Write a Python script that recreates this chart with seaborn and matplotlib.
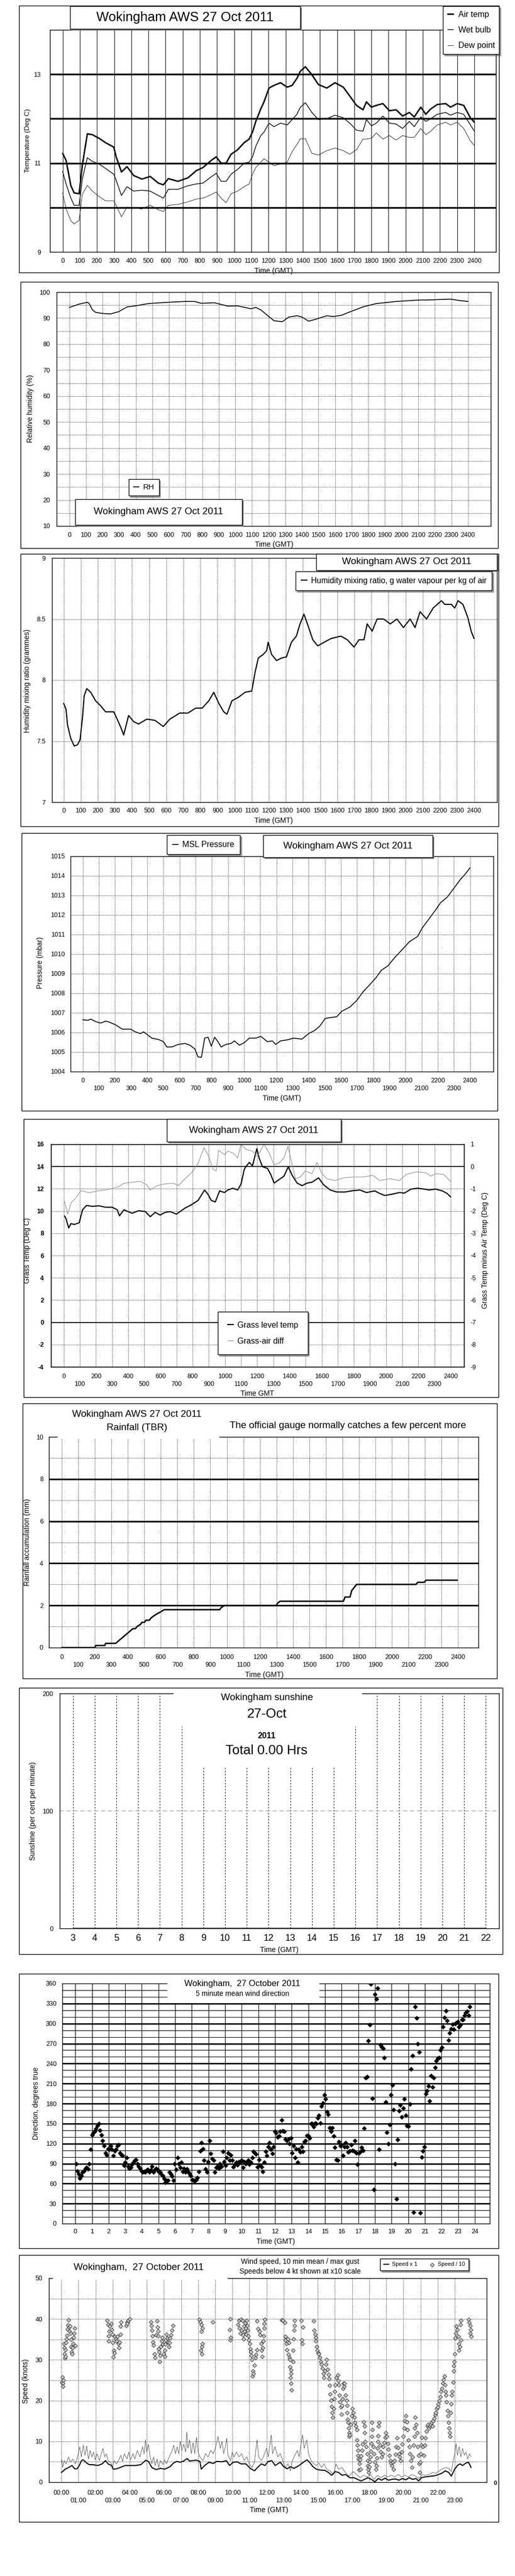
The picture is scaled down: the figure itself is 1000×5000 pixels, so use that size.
import matplotlib
matplotlib.use("Agg")
import matplotlib.pyplot as plt
import numpy as np
import seaborn as sns
from matplotlib.patches import Rectangle

# ---------------- data ----------------
# panel 1: temperatures (time in HHMM-style units 0..2400)
temp_time = [0, 20, 48, 67, 96, 115, 144, 173, 212, 250, 298, 312, 343, 375, 414, 462, 510, 558, 587, 616,
             673, 731, 779, 818, 866, 895, 924, 953, 982, 1020, 1058, 1087, 1107, 1126, 1155, 1174, 1203, 1232,
             1270, 1309, 1338, 1366, 1386, 1415, 1453, 1491, 1540, 1588, 1636, 1674, 1713, 1751, 1771, 1800,
             1829, 1867, 1905, 1944, 1982, 2021, 2050, 2088, 2117, 2146, 2184, 2233, 2261, 2300, 2338, 2377, 2400]
air_temp = [11.22, 11.06, 10.49, 10.33, 10.31, 10.96, 11.66, 11.64, 11.56, 11.46, 11.36, 11.14, 10.80, 10.92,
            10.72, 10.64, 10.70, 10.55, 10.51, 10.65, 10.59, 10.67, 10.83, 10.90, 11.06, 11.14, 11.00, 11.00,
            11.20, 11.30, 11.46, 11.54, 11.70, 11.94, 12.22, 12.38, 12.69, 12.75, 12.81, 12.71, 12.75, 12.91,
            13.07, 13.17, 12.99, 12.77, 12.69, 12.81, 12.71, 12.51, 12.30, 12.20, 12.38, 12.26, 12.30, 12.34,
            12.18, 12.20, 12.06, 12.14, 12.04, 12.26, 12.10, 12.22, 12.32, 12.34, 12.26, 12.34, 12.30, 12.02, 11.92]
wet_bulb = [10.81, 10.53, 10.21, 10.05, 10.05, 10.65, 11.12, 11.04, 10.98, 10.88, 10.75, 10.61, 10.27, 10.47,
            10.37, 10.39, 10.37, 10.27, 10.21, 10.41, 10.41, 10.49, 10.53, 10.55, 10.69, 10.77, 10.59, 10.59,
            10.75, 10.86, 11.00, 11.02, 11.14, 11.38, 11.62, 11.70, 11.90, 11.82, 11.90, 11.86, 11.98, 12.10,
            12.26, 12.36, 12.14, 11.98, 12.00, 12.08, 12.02, 11.90, 11.74, 11.72, 11.98, 11.84, 11.90, 12.06,
            11.90, 11.88, 11.78, 11.94, 11.82, 12.04, 11.94, 12.00, 12.10, 12.14, 12.08, 12.14, 12.10, 11.86, 11.72]
dew_point = [10.33, 9.97, 9.70, 9.63, 9.71, 10.30, 10.50, 10.37, 10.25, 10.15, 10.15, 10.05, 9.79, 10.01,
             9.99, 9.97, 10.05, 9.95, 9.91, 10.05, 10.07, 10.13, 10.19, 10.21, 10.29, 10.35, 10.21, 10.11,
             10.31, 10.37, 10.47, 10.53, 10.75, 10.90, 11.02, 11.10, 11.02, 10.94, 10.98, 11.02, 11.26, 11.42,
             11.55, 11.55, 11.22, 11.18, 11.28, 11.34, 11.28, 11.20, 11.30, 11.54, 11.54, 11.56, 11.68, 11.54,
             11.62, 11.52, 11.62, 11.58, 11.58, 11.78, 11.64, 11.72, 11.86, 11.92, 11.86, 11.92, 11.78, 11.50, 11.40]

# panel 2: relative humidity
rh_time = [0, 60, 109, 119, 139, 159, 199, 248, 298, 348, 397, 477, 596, 695, 755, 795, 874, 954, 1013, 1093,
           1123, 1152, 1192, 1232, 1282, 1321, 1371, 1401, 1441, 1490, 1550, 1590, 1639, 1689, 1768, 1848,
           1967, 2086, 2166, 2295, 2345, 2400]
rh = [94.1, 95.4, 96.1, 95.7, 93.2, 92.2, 91.8, 91.6, 92.5, 94.3, 94.7, 95.6, 96.1, 96.4, 96.4, 95.7, 95.9,
      94.6, 94.7, 93.6, 94.1, 93.2, 91.1, 89.0, 88.6, 90.4, 90.9, 90.4, 88.8, 89.7, 90.9, 90.6, 91.1, 92.4,
      94.3, 95.6, 96.4, 96.9, 97.0, 97.3, 96.8, 96.4]

# panel 3: humidity mixing ratio
mix_time = [0, 14, 23, 42, 62, 81, 96, 110, 120, 135, 158, 187, 216, 245, 293, 313, 338, 351, 380, 409, 438,
            486, 534, 583, 621, 679, 727, 772, 810, 849, 878, 907, 936, 955, 984, 1023, 1061, 1100, 1119, 1138,
            1167, 1187, 1196, 1216, 1245, 1274, 1303, 1332, 1361, 1380, 1405, 1428, 1457, 1486, 1524, 1563,
            1621, 1659, 1698, 1727, 1756, 1775, 1804, 1833, 1871, 1910, 1949, 1987, 2026, 2055, 2084, 2122,
            2161, 2209, 2229, 2267, 2287, 2306, 2335, 2364, 2383, 2400]
mix_ratio = [7.81, 7.76, 7.63, 7.52, 7.46, 7.47, 7.51, 7.69, 7.87, 7.93, 7.90, 7.83, 7.79, 7.74, 7.74, 7.68,
             7.60, 7.55, 7.71, 7.66, 7.64, 7.68, 7.67, 7.62, 7.68, 7.73, 7.73, 7.77, 7.77, 7.83, 7.90, 7.81,
             7.74, 7.72, 7.83, 7.86, 7.90, 7.91, 8.06, 8.18, 8.21, 8.24, 8.31, 8.21, 8.16, 8.18, 8.19, 8.31,
             8.36, 8.45, 8.54, 8.45, 8.33, 8.28, 8.31, 8.34, 8.36, 8.33, 8.27, 8.33, 8.33, 8.46, 8.40, 8.50,
             8.50, 8.46, 8.50, 8.43, 8.50, 8.43, 8.56, 8.50, 8.59, 8.65, 8.62, 8.62, 8.59, 8.65, 8.62, 8.51,
             8.40, 8.34]

# panel 4: MSL pressure
pres_time = [0, 31, 51, 82, 112, 143, 164, 204, 245, 296, 327, 358, 378, 429, 470, 501, 521, 552, 593, 634,
             664, 695, 715, 736, 756, 777, 797, 818, 838, 858, 889, 920, 940, 971, 1002, 1033, 1073, 1104,
             1145, 1175, 1196, 1227, 1267, 1308, 1359, 1400, 1441, 1472, 1502, 1533, 1574, 1605, 1656, 1697,
             1738, 1779, 1819, 1850, 1891, 1932, 1973, 2024, 2075, 2106, 2147, 2188, 2218, 2259, 2300, 2341,
             2371, 2400]
pressure = [1006.65, 1006.62, 1006.68, 1006.55, 1006.48, 1006.58, 1006.53, 1006.39, 1006.17, 1006.17,
            1006.03, 1005.94, 1006.03, 1005.71, 1005.64, 1005.53, 1005.26, 1005.26, 1005.39, 1005.44,
            1005.35, 1005.16, 1004.75, 1004.73, 1005.71, 1005.76, 1005.30, 1005.76, 1005.53, 1005.26,
            1005.39, 1005.44, 1005.57, 1005.35, 1005.48, 1005.71, 1005.71, 1005.80, 1005.53, 1005.57,
            1005.39, 1005.57, 1005.62, 1005.71, 1005.66, 1005.94, 1006.12, 1006.35, 1006.71, 1006.76,
            1006.80, 1007.08, 1007.30, 1007.62, 1008.08, 1008.44, 1008.81, 1009.17, 1009.40, 1009.81,
            1010.17, 1010.63, 1010.90, 1011.36, 1011.81, 1012.27, 1012.63, 1012.91, 1013.36, 1013.82,
            1014.09, 1014.41]

# panel 5: grass temperature and grass-air difference
grass_time = [4, 14, 31, 45, 66, 96, 117, 141, 178, 219, 260, 301, 332, 346, 373, 424, 465, 506, 537, 567,
              598, 629, 659, 700, 721, 752, 793, 834, 854, 874, 895, 915, 940, 967, 997, 1018, 1049, 1079,
              1100, 1120, 1130, 1151, 1171, 1198, 1212, 1233, 1264, 1284, 1305, 1335, 1366, 1393, 1417, 1448,
              1479, 1509, 1540, 1581, 1612, 1653, 1694, 1745, 1786, 1837, 1878, 1929, 1960, 1991, 2032, 2083,
              2113, 2154, 2195, 2236, 2266, 2307, 2348, 2378, 2400]
grass_temp = [9.57, 9.33, 8.48, 8.87, 8.79, 8.95, 10.11, 10.50, 10.42, 10.47, 10.34, 10.34, 10.11, 9.57,
              10.11, 9.80, 10.03, 9.95, 9.49, 9.88, 9.64, 9.88, 9.95, 9.72, 9.95, 10.26, 10.57, 10.96, 11.43,
              11.89, 11.50, 10.96, 10.81, 11.81, 11.66, 11.89, 12.05, 11.89, 12.43, 13.75, 13.98, 14.37, 14.06,
              15.61, 14.76, 13.98, 13.83, 13.29, 12.51, 12.82, 13.13, 13.98, 13.21, 12.51, 12.28, 12.51, 12.59,
              12.98, 12.36, 11.89, 11.71, 11.71, 11.81, 11.89, 11.66, 11.81, 11.58, 11.40, 11.50, 11.66, 11.61,
              11.97, 12.05, 11.97, 11.89, 11.97, 11.81, 11.58, 11.27]
diff_time = [4, 25, 45, 76, 106, 158, 219, 281, 342, 373, 424, 475, 516, 537, 578, 629, 680, 711, 752, 793,
             834, 870, 899, 926, 946, 961, 997, 1018, 1049, 1079, 1100, 1130, 1171, 1202, 1243, 1274, 1305,
             1335, 1366, 1391, 1417, 1438, 1468, 1499, 1540, 1571, 1602, 1632, 1683, 1735, 1796, 1858, 1919,
             1960, 2021, 2083, 2124, 2185, 2247, 2277, 2308, 2359, 2400]
grass_air_diff = [-1.56, -2.14, -1.64, -1.40, -1.09, -1.17, -1.09, -1.02, -0.90, -0.75, -0.71, -0.67, -0.82,
                  -1.05, -0.86, -0.78, -0.75, -0.86, -0.55, -0.28, 0.15, 0.85, 0.46, -0.12, -0.20, 0.73, 0.53,
                  0.69, 0.61, 0.38, 1.0, 0.77, 0.69, 0.46, 1.0, 0.61, 0.07, 0.15, 0.38, 0.92, 0.07, -0.55,
                  -0.47, -0.20, -0.32, 0.19, -0.32, -0.55, -0.63, -0.51, -0.47, -0.47, -0.40, -0.63, -0.55,
                  -0.63, -0.36, -0.24, -0.28, -0.43, -0.32, -0.36, -0.67]

# panel 6: rainfall accumulation (tipping bucket)
rain_time = [0, 200, 206, 260, 266, 326, 341, 356, 371, 386, 401, 416, 431, 446, 456, 476, 486, 500, 510,
             530, 540, 556, 576, 600, 620, 956, 966, 986, 1300, 1306, 1322, 1706, 1716, 1746, 1756, 1786,
             2146, 2156, 2196, 2206, 2396]
rain_mm = [0, 0, 0.1, 0.1, 0.2, 0.2, 0.3, 0.4, 0.5, 0.6, 0.7, 0.8, 0.9, 0.9, 1.0, 1.1, 1.2, 1.2, 1.3, 1.3,
           1.4, 1.5, 1.6, 1.7, 1.8, 1.8, 1.9, 2.0, 2.0, 2.1, 2.2, 2.2, 2.4, 2.4, 2.7, 3.0, 3.0, 3.1, 3.1,
           3.2, 3.2]

# panel 7: sunshine (none recorded)
sun_hours = [3, 4, 5, 6, 7, 8, 9, 10, 11, 12, 13, 14, 15, 16, 17, 18, 19, 20, 21, 22]
sunshine = [0, 0, 0, 0, 0, 0, 0, 0, 0, 0, 0, 0, 0, 0, 0, 0, 0, 0, 0, 0]

# panel 8: 5 minute mean wind direction, in time order from 00:02 to 23:42
wind_dir = [89.5, 79, 74, 68, 72, 77, 79, 83, 84, 82, 90, 111,
            133, 136, 138, 142, 147, 150,
            140, 133, 124, 117, 106, 103, 112, 111, 117, 111, 102, 109, 111, 117, 118, 106, 103, 102,
            87, 92, 99, 86, 83, 84, 89, 92, 95, 96, 90, 86,
            83, 79, 77, 78, 77, 80, 81, 77, 80, 86, 77, 80, 83, 81, 78, 77, 74, 72, 67, 62, 64, 65, 77, 74, 71,
            65, 90, 81, 99, 90, 84, 92, 78, 83, 77, 82, 78, 75, 72, 66, 65, 64, 66, 69, 78,
            109, 121, 112, 95, 82, 77, 93, 124, 105, 97, 95, 77, 84, 86, 83, 90, 86, 108, 93, 87, 99, 106, 95, 103,
            95, 85, 89, 92, 88, 93, 92, 95, 84, 93, 90, 93, 95, 89, 92, 99, 108, 106, 104, 85, 96, 87, 85, 78, 92,
            108, 102, 115, 121, 111, 105, 115, 138, 136, 130, 131, 138, 155, 139, 138, 127, 124, 127, 120, 128,
            106, 117, 99, 112,
            92, 111, 107, 115, 108, 123, 124, 132, 131, 128, 150, 150, 145, 151, 150, 158, 162, 151, 176, 181,
            193, 187, 168, 164, 144,
            138, 144, 131, 114, 96, 95, 123, 117, 118, 102, 115, 121, 115, 107, 109, 118, 110, 109, 124, 106,
            89, 106, 108, 114, 110,
            143, 219, 220, 274, 298, 359, 188, 51, 344, 337, 353, 111, 268, 265, 263, 249, 182, 137, 120, 148,
            193, 208, 171, 90,
            37, 126, 169, 178, 160, 173, 187, 162, 147, 146, 179, 232, 252, 17, 325, 308, 270, 257, 16, 100,
            109, 115, 195, 199, 206,
            184, 222, 205, 219, 234, 244, 248, 249, 260, 264, 295, 309, 319, 304, 275, 286, 292, 299, 291, 300,
            301, 303, 295, 298, 306, 306, 312, 316, 318, 312, 325]
dir_first_hour, dir_last_hour = 0.04, 23.70

# panel 9: wind speed, knots (hour, value)
mean_speed = [(0.0, 2.4), (0.12, 2.8), (0.22, 3.2), (0.42, 3.6), (0.62, 4.1), (0.77, 3.3), (0.92, 3.3),
              (1.07, 4.3), (1.17, 5.3), (1.28, 5.5), (1.48, 4.7), (1.63, 4.3), (1.83, 4.3), (2.13, 4.1),
              (2.38, 4.5), (2.58, 5.3), (2.73, 4.5), (2.93, 4.1), (3.03, 3.2), (3.23, 3.3), (3.43, 3.6),
              (3.73, 4.1), (4.04, 4.1), (4.34, 4.1), (4.64, 4.3), (4.94, 5.4), (5.09, 5.1), (5.29, 3.6),
              (5.54, 3.1), (5.79, 3.4), (6.04, 3.2), (6.35, 3.8), (6.55, 4.7), (6.75, 5.1), (6.95, 4.9),
              (7.15, 5.2), (7.35, 5.8), (7.5, 5.2), (7.65, 5.3), (7.9, 5.4), (8.1, 5.1), (8.18, 3.2),
              (8.38, 4.1), (8.63, 4.9), (8.88, 4.6), (9.08, 5.1), (9.39, 5.0), (9.64, 5.3), (9.84, 4.1),
              (10.04, 4.9), (10.29, 5.0), (10.49, 4.5), (10.79, 4.5), (11.04, 3.4), (11.29, 2.8), (11.49, 3.7),
              (11.69, 4.5), (11.9, 4.1), (12.1, 5.1), (12.3, 5.3), (12.5, 4.1), (12.8, 4.9), (13.0, 3.8),
              (13.2, 3.3), (13.4, 3.8), (13.6, 3.4), (13.9, 4.1), (14.15, 4.9), (14.36, 5.5), (14.51, 4.9),
              (14.71, 3.8), (14.91, 3.2), (15.11, 3.0), (15.41, 2.9), (15.61, 2.4), (15.81, 1.7), (16.01, 2.6),
              (16.21, 2.4), (16.41, 1.7), (16.61, 1.9), (16.87, 1.1), (17.12, 1.1), (17.32, 0.7), (17.52, 0.3),
              (17.72, 0.7), (17.92, 1.1), (18.13, 0.7), (18.33, 0.1), (18.53, 0.9), (18.73, 0.5), (18.93, 1.0),
              (19.13, 0.5), (19.33, 0.7), (19.54, 0.8), (19.74, 0.5), (19.94, 0.9), (20.14, 0.6), (20.34, 1.1),
              (20.54, 0.7), (20.74, 0.9), (20.89, 0.3), (21.04, 1.1), (21.25, 1.3), (21.45, 1.4), (21.65, 1.5),
              (21.85, 1.6), (22.05, 1.9), (22.25, 2.2), (22.45, 2.8), (22.65, 2.4), (22.8, 1.5), (23.0, 3.2),
              (23.16, 4.1), (23.31, 4.5), (23.46, 4.1), (23.66, 4.7), (23.81, 4.9), (23.96, 3.6)]
gust_speed = [(0.0, 4.9), (0.04, 5.5), (0.07, 3.6), (0.17, 5.3), (0.27, 4.5), (0.42, 6.2), (0.52, 4.9),
              (0.67, 5.7), (0.82, 4.5), (0.97, 6.6), (1.07, 8.7), (1.17, 6.2), (1.28, 9.1), (1.38, 6.6),
              (1.48, 8.9), (1.58, 5.7), (1.68, 7.8), (1.78, 6.2), (1.88, 7.4), (1.98, 5.5), (2.08, 7.0),
              (2.23, 5.3), (2.33, 7.0), (2.43, 8.3), (2.53, 6.2), (2.63, 7.0), (2.73, 5.3), (2.88, 4.9),
              (2.98, 3.6), (3.08, 5.3), (3.23, 4.5), (3.38, 5.7), (3.48, 6.6), (3.58, 5.1), (3.68, 7.0),
              (3.84, 5.7), (3.94, 7.4), (4.04, 5.5), (4.19, 7.0), (4.29, 5.7), (4.44, 7.8), (4.59, 6.2),
              (4.74, 8.7), (4.84, 7.0), (4.92, 10.4), (4.99, 7.4), (5.09, 9.3), (5.19, 6.2), (5.29, 4.5),
              (5.39, 6.2), (5.49, 4.1), (5.59, 5.7), (5.69, 3.6), (5.79, 5.3), (5.94, 4.3), (6.04, 5.5),
              (6.14, 4.5), (6.3, 6.2), (6.45, 7.4), (6.57, 9.1), (6.67, 7.0), (6.77, 8.7), (6.87, 7.0),
              (6.95, 10.0), (7.05, 7.8), (7.15, 9.3), (7.27, 7.4), (7.33, 12.3), (7.4, 8.3), (7.5, 10.4),
              (7.6, 7.0), (7.7, 9.7), (7.8, 7.0), (7.9, 11.0), (8.0, 7.4), (8.1, 6.2), (8.28, 5.3), (8.43, 7.0),
              (8.58, 6.2), (8.73, 7.8), (8.88, 7.0), (9.03, 8.7), (9.16, 11.2), (9.29, 8.3), (9.39, 10.0),
              (9.49, 7.0), (9.59, 8.7), (9.67, 10.8), (9.74, 6.6), (9.89, 5.3), (9.99, 7.4), (10.09, 6.2),
              (10.24, 7.4), (10.39, 6.2), (10.54, 7.0), (10.69, 5.3), (10.84, 6.2), (10.99, 4.5), (11.14, 3.6),
              (11.29, 4.9), (11.44, 10.4), (11.54, 6.2), (11.69, 5.3), (11.85, 6.6), (12.0, 8.3), (12.1, 6.2),
              (12.27, 11.6), (12.35, 7.0), (12.5, 8.7), (12.65, 6.2), (12.8, 7.0), (12.95, 5.3), (13.1, 3.6),
              (13.25, 4.5), (13.4, 2.8), (13.5, 5.3), (13.65, 6.6), (13.8, 7.8), (13.9, 6.2), (14.02, 9.5),
              (14.1, 11.6), (14.2, 8.3), (14.35, 10.4), (14.45, 7.0), (14.61, 5.3), (14.76, 4.5), (14.91, 4.1),
              (15.06, 4.7), (15.21, 3.6), (15.36, 4.5), (15.51, 3.2), (15.71, 2.8), (15.91, 1.9), (16.06, 4.5),
              (16.21, 3.2), (16.41, 3.6), (16.61, 2.4), (16.81, 1.5), (17.07, 2.6), (17.27, 1.9), (17.48, 1.1),
              (17.68, 1.7), (17.88, 1.3), (18.08, 1.9), (18.28, 0.7), (18.48, 1.7), (18.68, 1.1), (18.89, 1.7),
              (19.09, 1.3), (19.29, 1.7), (19.49, 1.3), (19.69, 1.9), (19.89, 1.3), (20.09, 1.7), (20.29, 1.3),
              (20.5, 1.9), (20.7, 1.5), (20.9, 0.9), (21.1, 1.9), (21.3, 1.7), (21.5, 1.9), (21.7, 2.4),
              (21.9, 2.2), (22.1, 2.8), (22.25, 3.2), (22.46, 3.6), (22.66, 3.4), (22.81, 2.6), (22.91, 5.3),
              (23.01, 7.0), (23.08, 9.5), (23.16, 6.6), (23.26, 8.7), (23.36, 6.2), (23.46, 8.3), (23.56, 6.6),
              (23.66, 7.4), (23.76, 5.7), (23.87, 7.0), (23.95, 6.2)]
speed_x10 = [(0.02, 24.5), (0.05, 25.8), (0.07, 24.2), (0.09, 23.5), (0.10, 25.0), (0.14, 34.0), (0.16, 33.0),
             (0.18, 31.5), (0.20, 30.4), (0.22, 30.8), (0.24, 32.5), (0.27, 34.2), (0.30, 35.1), (0.33, 36.0),
             (0.36, 37.5), (0.39, 38.5), (0.42, 39.8), (0.44, 38.0), (0.47, 37.0), (0.50, 38.2), (0.52, 36.5),
             (0.55, 35.0), (0.58, 33.2), (0.60, 32.0), (0.63, 31.5), (0.66, 33.0), (0.69, 34.0), (0.72, 35.5),
             (0.75, 36.5), (0.78, 37.8), (0.80, 33.5),
             (2.68, 39.7), (2.73, 38.6), (2.75, 34.6), (2.76, 35.9), (2.78, 37.0), (2.83, 38.2), (2.91, 38.9),
             (2.93, 37.4), (2.98, 36.3), (3.01, 34.2), (3.03, 30.7), (3.05, 32.3), (3.08, 31.7), (3.13, 35.7),
             (3.18, 35.1), (3.23, 34.6), (3.28, 35.7), (3.33, 34.0), (3.36, 33.0), (3.41, 34.4), (3.45, 36.3),
             (3.46, 38.2), (3.49, 39.3), (3.79, 38.4), (3.84, 39.3), (3.86, 38.9), (3.92, 39.7), (3.99, 40.0),
             (5.24, 39.3), (5.26, 38.4), (5.29, 37.2), (5.32, 35.9), (5.36, 34.4), (5.39, 33.6), (5.44, 31.5),
             (5.47, 30.6), (5.54, 36.1), (5.59, 39.5), (5.62, 38.0), (5.64, 37.0), (5.66, 35.9), (5.69, 32.7),
             (5.72, 31.9), (5.76, 29.6), (5.79, 31.1), (5.82, 33.2), (5.86, 34.6), (5.90, 35.5), (5.94, 33.8),
             (5.99, 31.5), (6.04, 30.8), (6.06, 32.3), (6.09, 33.8), (6.12, 34.9), (6.14, 36.3), (6.19, 35.3),
             (6.24, 34.4), (6.29, 33.2), (6.32, 34.2), (6.36, 35.3), (6.42, 36.1), (6.46, 37.2), (6.53, 38.4),
             (8.06, 39.9), (8.13, 39.3), (8.16, 32.3), (8.18, 38.6), (8.19, 37.0), (8.20, 33.2), (8.21, 31.5),
             (8.23, 34.0), (8.26, 37.8), (8.86, 39.3), (9.84, 37.4), (9.87, 40.0), (9.88, 34.9), (9.89, 35.5),
             (10.31, 38.6), (10.37, 39.7), (10.41, 37.8), (10.47, 36.5), (10.51, 39.9), (10.54, 37.2),
             (10.59, 39.7), (10.61, 36.1), (10.64, 35.1), (10.67, 38.2), (10.71, 37.0), (10.74, 39.0),
             (10.77, 37.8), (10.79, 36.3), (10.84, 39.7), (10.87, 38.4), (10.89, 37.2), (10.94, 35.9),
             (10.97, 34.9), (11.01, 34.0), (11.04, 32.7), (11.07, 31.9), (11.11, 31.1), (11.14, 30.0),
             (11.17, 26.0), (11.19, 27.3), (11.24, 26.6), (11.29, 28.7), (11.34, 30.6), (11.37, 31.3),
             (11.43, 32.5), (11.45, 39.5), (11.51, 37.6), (11.58, 37.0), (11.63, 36.1), (11.67, 34.0),
             (11.72, 32.3), (11.75, 30.8), (11.77, 33.0), (11.80, 34.6), (11.82, 35.9), (11.85, 37.8),
             (11.87, 38.9), (11.90, 39.9),
             (12.87, 39.8), (12.95, 39.7), (13.05, 39.1), (13.08, 35.7), (13.10, 34.9), (13.15, 34.0),
             (13.18, 32.5), (13.25, 35.1), (13.28, 31.3), (13.30, 34.2), (13.32, 30.6), (13.35, 30.0),
             (13.38, 28.3), (13.40, 25.6), (13.42, 27.5), (13.43, 24.3), (13.44, 26.6), (13.45, 22.6),
             (13.55, 32.3), (13.56, 29.6), (13.58, 35.1), (13.62, 37.2), (13.63, 38.4), (13.65, 39.7),
             (14.02, 39.7), (14.05, 34.9), (14.10, 34.0), (14.12, 38.0),
             (14.76, 39.5), (14.79, 37.2), (14.83, 36.3), (14.86, 35.5), (14.88, 34.6), (14.93, 33.2),
             (14.96, 32.3), (15.01, 31.7), (15.06, 31.5), (15.11, 30.6), (15.16, 29.6), (15.21, 28.9),
             (15.26, 27.9), (15.31, 26.6), (15.36, 25.6), (15.41, 27.3), (15.46, 28.9), (15.51, 30.0),
             (15.56, 27.7), (15.61, 26.4), (15.66, 25.4), (15.68, 23.7), (15.71, 21.6), (15.76, 20.1),
             (15.79, 18.6), (15.83, 17.1), (15.86, 15.9), (15.91, 18.0), (15.96, 20.5), (15.99, 22.2),
             (16.03, 23.9), (16.09, 25.6), (16.16, 26.2), (16.19, 24.9), (16.23, 23.9), (16.26, 21.4),
             (16.29, 19.7), (16.34, 18.4), (16.37, 16.7), (16.40, 18.8), (16.44, 20.5), (16.48, 23.0),
             (16.51, 24.3), (16.54, 23.5), (16.57, 24.3), (16.62, 21.4), (16.67, 20.1), (16.70, 18.8),
             (16.72, 17.1), (16.74, 15.4), (16.77, 14.6), (16.80, 13.3), (16.82, 12.1), (16.84, 11.2),
             (16.87, 11.6), (16.92, 14.2), (16.97, 16.3), (17.02, 18.0), (17.07, 17.1), (17.12, 15.9),
             (17.17, 14.6), (17.22, 13.8), (17.27, 12.9), (17.29, 10.4), (17.32, 9.1), (17.33, 7.8),
             (17.35, 6.6), (17.37, 5.7), (17.40, 3.0), (17.42, 4.5), (17.47, 5.5), (17.50, 3.2), (17.52, 6.4),
             (17.57, 7.8), (17.62, 9.3), (17.67, 14.8), (17.72, 13.8), (17.73, 12.1), (17.77, 10.0),
             (17.82, 8.7), (17.87, 7.0), (17.90, 5.3), (17.92, 4.1), (17.94, 3.2), (17.97, 2.4), (18.00, 3.8),
             (18.04, 5.1), (18.07, 6.2), (18.10, 7.6), (18.12, 9.5), (18.14, 14.6), (18.15, 11.2),
             (18.18, 12.9), (18.23, 8.7), (18.28, 7.0), (18.33, 4.9), (18.38, 3.2), (18.43, 4.1), (18.45, 5.9),
             (18.48, 8.3), (18.51, 10.0), (18.53, 11.4), (18.55, 13.8), (18.58, 14.6), (18.63, 9.1),
             (18.68, 7.4), (18.73, 6.2), (18.78, 7.0), (18.83, 8.7), (18.88, 9.7), (18.93, 11.0), (18.98, 12.1),
             (19.03, 11.2), (19.08, 9.5), (19.13, 8.1), (19.18, 6.6), (19.23, 5.3), (19.28, 4.7), (19.33, 4.1),
             (19.38, 4.9), (19.43, 3.2), (19.48, 5.3), (19.53, 6.8), (19.58, 8.7), (19.64, 10.8), (19.69, 8.5),
             (19.74, 7.0), (19.79, 6.2), (19.84, 5.3), (19.89, 7.4), (19.94, 9.3), (19.99, 11.2), (20.04, 13.3),
             (20.09, 15.0), (20.14, 16.3), (20.19, 14.8), (20.24, 12.9), (20.29, 10.4), (20.34, 8.7),
             (20.39, 7.0), (20.44, 5.3), (20.49, 3.6), (20.54, 6.2), (20.59, 9.1), (20.64, 11.2), (20.66, 13.3),
             (20.69, 15.9), (20.74, 14.2), (20.79, 12.1), (20.84, 8.7), (20.89, 6.6), (20.92, 4.5), (20.94, 2.4),
             (20.99, 4.9), (21.02, 7.0), (21.04, 9.1), (21.09, 11.0), (21.14, 8.7), (21.20, 6.6), (21.25, 9.1),
             (21.30, 10.8), (21.35, 12.5), (21.40, 13.8), (21.45, 14.2), (21.50, 13.3), (21.55, 13.8),
             (21.60, 14.2), (21.65, 14.6), (21.70, 13.8), (21.75, 15.0), (21.80, 15.7), (21.85, 16.5),
             (21.90, 17.1), (21.95, 18.0), (22.00, 18.4), (22.05, 19.2), (22.10, 19.9), (22.15, 20.9),
             (22.20, 22.2), (22.25, 23.0), (22.30, 24.3), (22.35, 25.1), (22.40, 26.0), (22.43, 23.9),
             (22.47, 22.2), (22.50, 21.4), (22.53, 19.7), (22.57, 17.6), (22.60, 16.3), (22.64, 14.6),
             (22.68, 13.3), (22.70, 12.1), (22.73, 11.2), (22.77, 17.1), (22.80, 19.2), (22.83, 21.4),
             (22.85, 22.2), (22.90, 24.5), (22.93, 27.3), (22.95, 28.5), (22.97, 29.6), (23.00, 31.5),
             (23.03, 35.3), (23.07, 36.5), (23.10, 38.2), (23.15, 37.4), (23.20, 35.7), (23.23, 34.0),
             (23.25, 32.3), (23.30, 33.2), (23.33, 38.6), (23.35, 34.9), (23.37, 39.6), (23.81, 39.9),
             (23.86, 39.1), (23.91, 38.4), (23.92, 36.5), (23.94, 37.4), (23.96, 35.7)]

TITLE = "Wokingham AWS 27 Oct 2011"

# ---------------- style ----------------
sns.set_theme(style="white")
plt.rcParams["font.family"] = ["Liberation Sans", "DejaVu Sans"]
plt.rcParams["axes.unicode_minus"] = False
plt.rcParams["axes.edgecolor"] = "black"
plt.rcParams["axes.linewidth"] = 1.0
plt.rcParams["xtick.color"] = "black"
plt.rcParams["ytick.color"] = "black"
plt.rcParams["text.color"] = "black"

W, H = 1000, 5000
fig = plt.figure(figsize=(W / 100, H / 100), dpi=100)
fig.patch.set_facecolor("white")

DOT = (0, (1, 1.6))
DOT_GRID = dict(color="black", linewidth=0.7, linestyle=DOT)


def px_axes(left, top, right, bottom):
    return fig.add_axes([left / W, 1 - bottom / H, (right - left) / W, (bottom - top) / H])


def px_rect(left, top, right, bottom, face="none", edge="black", lw=1.0, z=3):
    fig.add_artist(Rectangle((left / W, 1 - bottom / H), (right - left) / W, (bottom - top) / H,
                             transform=fig.transFigure, facecolor=face, edgecolor=edge,
                             linewidth=lw, zorder=z))


def shadow_box(left, top, right, bottom, text=None, size=13.5):
    px_rect(left + 3, top + 3, right + 3, bottom + 3, face="#7a7a7a", edge="none", z=4)
    px_rect(left, top, right, bottom, face="white", edge="black", z=5)
    if text:
        px_text((left + right) / 2, (top + bottom) / 2, text, size)


def px_text(x, y, s, size, **kw):
    kw.setdefault("ha", "center")
    kw.setdefault("va", "center")
    fig.text(x / W, 1 - y / H, s, fontsize=size, zorder=6, **kw)


def box_legend(handles, labels, left, top, size, **kw):
    leg = fig.legend(handles, labels, loc="upper left", bbox_to_anchor=(left / W, 1 - top / H),
                     bbox_transform=fig.transFigure, fontsize=size, frameon=True, fancybox=False,
                     shadow=True, edgecolor="black", framealpha=1, borderaxespad=0, **kw)
    leg.get_frame().set_linewidth(1.0)
    leg.set_zorder(8)
    return leg


def grab_legend(ax):
    handles, labels = ax.get_legend_handles_labels()
    if ax.get_legend() is not None:
        ax.get_legend().remove()
    return handles, labels


def two_row_xticks(ax, ticks, fmt, pad1, pad2, size=9):
    even, odd = ticks[0::2], ticks[1::2]
    ax.set_xticks(even, [fmt(v) for v in even])
    ax.set_xticks(odd, [fmt(v) for v in odd], minor=True)
    ax.tick_params(axis="x", which="major", pad=pad1, labelsize=size, length=0)
    ax.tick_params(axis="x", which="minor", pad=pad2, labelsize=size, length=0)


def hide_edge_grid(ax, values):
    # keep the plot frame thin where a heavy grid line would sit on it
    for val, line in zip(ax.get_yticks(), ax.get_ygridlines()):
        if val in values:
            line.set_visible(False)


hundreds = list(range(0, 2401, 100))

# ---------------- panel 1: temperature ----------------
px_rect(37, 11, 969, 529)
ax1 = px_axes(97, 58, 963, 489)
sns.lineplot(x=temp_time, y=air_temp, ax=ax1, color="black", linewidth=2.0, label="Air temp", estimator=None)
sns.lineplot(x=temp_time, y=wet_bulb, ax=ax1, color="black", linewidth=1.0, label="Wet bulb", estimator=None)
sns.lineplot(x=temp_time, y=dew_point, ax=ax1, color="black", linewidth=0.6, label="Dew point", estimator=None)
ax1.set_xlim(-74, 2526)
ax1.set_ylim(9, 14)
ax1.set_xticks(hundreds, [str(v) for v in hundreds])
ax1.set_yticks([9, 10, 11, 12, 13], ["9", "", "11", "", "13"])
ax1.grid(axis="x", color="black", linewidth=0.7)
ax1.grid(axis="y", color="black", linewidth=2.4)
hide_edge_grid(ax1, (9,))
ax1.set_axisbelow(True)
ax1.tick_params(length=0, labelsize=9)
ax1.tick_params(axis="x", pad=8.5)
ax1.tick_params(axis="y", pad=13)
ax1.set_xlabel("")
ax1.set_ylabel("")
px_text(531, 526, "Time (GMT)", 10)
px_text(54, 273, "Temperature (Deg C)", 9.5, rotation=90)
h, l = grab_legend(ax1)
box_legend(h, l, 860, 12, 11.5, handlelength=0.7, handletextpad=0.6, labelspacing=0.95, borderpad=0.55)
shadow_box(136, 12, 583, 56, TITLE, 18.5)

# ---------------- panel 2: relative humidity ----------------
px_rect(40, 547, 967, 1064)
ax2 = px_axes(110, 567, 953, 1021)
sns.lineplot(x=rh_time, y=rh, ax=ax2, color="black", linewidth=1.2, label="RH", estimator=None)
ax2.set_xlim(-76, 2537)
ax2.set_ylim(10, 100)
ax2.set_xticks(hundreds, [str(v) for v in hundreds])
ax2.set_yticks(list(range(10, 101, 10)))
ax2.set_yticks(list(range(15, 100, 10)), minor=True)
ax2.grid(axis="x", **DOT_GRID)
ax2.grid(axis="y", which="both", **DOT_GRID)
ax2.set_axisbelow(True)
ax2.tick_params(axis="x", length=0, labelsize=9, pad=8.5)
ax2.tick_params(axis="y", which="both", length=0, labelsize=9, pad=9)
ax2.set_xlabel("")
ax2.set_ylabel("")
px_text(532, 1057, "Time (GMT)", 10)
px_text(59, 793, "Relative humidity (%)", 10, rotation=90)
h, l = grab_legend(ax2)
box_legend(h, l, 250, 930, 11, handlelength=0.7, handletextpad=0.5, borderpad=0.6)
shadow_box(146, 969, 470, 1019, TITLE, 13.5)

# ---------------- panel 3: humidity mixing ratio ----------------
px_rect(40, 1075, 968, 1604)
ax3 = px_axes(101, 1083, 965, 1557)
sns.lineplot(x=mix_time, y=mix_ratio, ax=ax3, color="black", linewidth=1.6,
             label="Humidity mixing ratio, g water vapour per kg of air", estimator=None)
ax3.set_xlim(-68, 2534)
ax3.set_ylim(7, 9)
ax3.set_xticks(hundreds, [str(v) for v in hundreds])
ax3.set_yticks([7, 7.5, 8, 8.5, 9], ["7", "7.5", "8", "8.5", "9"])
ax3.grid(axis="both", **DOT_GRID)
ax3.set_axisbelow(True)
ax3.tick_params(axis="x", length=0, labelsize=9, pad=8)
ax3.tick_params(axis="y", length=0, labelsize=9, pad=9)
ax3.set_xlabel("")
ax3.set_ylabel("")
px_text(531, 1593, "Time (GMT)", 10)
px_text(53, 1321, "Humidity mixing ratio (grammes)", 10, rotation=90)
h, l = grab_legend(ax3)
box_legend(h, l, 574, 1109, 11.2, handlelength=0.7, handletextpad=0.5, borderpad=0.7)
shadow_box(614, 1075, 965, 1107, TITLE, 13.5)

# ---------------- panel 4: pressure ----------------
px_rect(42, 1617, 966, 2156)
ax4 = px_axes(137, 1662, 958, 2080)
sns.lineplot(x=pres_time, y=pressure, ax=ax4, color="black", linewidth=1.2, label="MSL Pressure",
             estimator=None)
ax4.set_xlim(-75, 2545)
ax4.set_ylim(1004, 1015)
two_row_xticks(ax4, hundreds, str, 8.5, 19.5)
ax4.set_yticks(list(range(1004, 1016)))
ax4.grid(axis="x", which="both", **DOT_GRID)
ax4.grid(axis="y", **DOT_GRID)
ax4.set_axisbelow(True)
ax4.tick_params(axis="y", length=0, labelsize=9, pad=8)
ax4.set_xlabel("")
ax4.set_ylabel("")
px_text(547, 2132, "Time (GMT)", 10)
px_text(78, 1869, "Pressure (mbar)", 10, rotation=90)
h, l = grab_legend(ax4)
box_legend(h, l, 324, 1621, 11.5, handlelength=0.7, handletextpad=0.5, borderpad=0.7)
shadow_box(511, 1621, 840, 1664, TITLE, 13.5)

# ---------------- panel 5: grass temperature ----------------
px_rect(46, 2172, 968, 2712)
ax5 = px_axes(99, 2221, 901, 2653)
ax5b = ax5.twinx()
sns.lineplot(x=grass_time, y=grass_temp, ax=ax5, color="black", linewidth=1.6, label="Grass level temp",
             estimator=None)
sns.lineplot(x=diff_time, y=grass_air_diff, ax=ax5b, color="#8c8c8c", linewidth=0.8, label="Grass-air diff",
             estimator=None)
ax5.set_xlim(-79, 2483)
ax5.set_ylim(-4, 16)
ax5b.set_ylim(-9, 1)
two_row_xticks(ax5, hundreds, str, 9.5, 20.5)
left_ticks = list(range(-4, 17, 2))
ax5.set_yticks(left_ticks, [str(v) for v in left_ticks], fontweight="bold")
right_ticks = list(range(-9, 2))
ax5b.set_yticks(right_ticks, [str(v) for v in right_ticks])
ax5.grid(axis="x", which="both", **DOT_GRID)
ax5.grid(axis="y", **DOT_GRID)
ax5.set_axisbelow(True)
# the two solid reference levels of the original chart
ax5.axhline(14, color="black", linewidth=1.2, zorder=1)
ax5.axhline(0, color="black", linewidth=1.2, zorder=1)
ax5.tick_params(axis="y", length=0, labelsize=9, pad=10)
ax5b.tick_params(axis="y", length=0, labelsize=9, pad=9)
for ax in (ax5, ax5b):
    ax.set_xlabel("")
    ax.set_ylabel("")
px_text(500, 2705, "Time GMT", 10)
px_text(53, 2427, "Grass Temp (Deg C)", 10, rotation=90)
px_text(942, 2427, "Grass Temp minus Air Temp (Deg C)", 10, rotation=90)
h1, l1 = grab_legend(ax5)
h2, l2 = grab_legend(ax5b)
box_legend(h1 + h2, l1 + l2, 423, 2546, 11.3, handlelength=0.7, handletextpad=0.5, labelspacing=1.0,
           borderpad=1.2)
shadow_box(324, 2172, 662, 2216, TITLE, 13.5)

# ---------------- panel 6: rainfall ----------------
px_rect(44, 2724, 965, 3258)
ax6 = px_axes(95, 2789, 929, 3198)
sns.lineplot(x=rain_time, y=rain_mm, ax=ax6, color="black", linewidth=2.0, estimator=None, legend=False)
ax6.set_xlim(-78, 2524)
ax6.set_ylim(0, 10)
two_row_xticks(ax6, hundreds, str, 9.5, 20.5)
ax6.set_yticks(list(range(0, 11, 2)))
ax6.set_yticks(list(range(1, 10, 2)), minor=True)
ax6.grid(axis="x", which="both", **DOT_GRID)
ax6.grid(axis="y", which="minor", **DOT_GRID)
ax6.grid(axis="y", which="major", color="black", linewidth=2.2)
hide_edge_grid(ax6, (0, 10))
ax6.set_axisbelow(True)
ax6.tick_params(axis="y", which="both", length=0, labelsize=9, pad=8)
ax6.set_xlabel("")
ax6.set_ylabel("")
px_text(513, 3251, "Time (GMT)", 10)
px_text(53, 2993, "Rainfall accumulation (mm)", 10, rotation=90)
px_rect(112, 2772, 426, 2793, face="white", edge="none", z=4)
px_text(266, 2746, TITLE, 13.5)
px_text(266, 2772, "Rainfall (TBR)", 13.5)
px_text(676, 2767, "The official gauge normally catches a few percent more", 13.5)

# ---------------- panel 7: sunshine ----------------
px_rect(37, 3276, 976, 3793)
ax7 = px_axes(116, 3287, 969, 3743)
sns.lineplot(x=sun_hours, y=sunshine, ax=ax7, color="black", linewidth=2.2, estimator=None, legend=False)
ax7.set_xlim(2.39, 22.61)
ax7.set_ylim(0, 200)
ax7.set_xticks(sun_hours, [str(v) for v in sun_hours])
ax7.set_yticks([0, 100, 200])
ax7.grid(axis="x", color="black", linewidth=0.7, linestyle=(0, (3, 3)))
ax7.grid(axis="y", color="#b4b4b4", linewidth=1.2, linestyle=(0, (5, 3)))
hide_edge_grid(ax7, (0, 200))
ax7.set_axisbelow(True)
ax7.tick_params(axis="x", length=0, labelsize=13, pad=8)
ax7.tick_params(axis="y", direction="in", length=8, width=1.2, labelsize=9, pad=9)
ax7.set_xlabel("")
ax7.set_ylabel("")
px_text(542, 3785, "Time (GMT)", 10)
px_text(64, 3515, "Sunshine (per cent per minute)", 10, rotation=90)
px_rect(337, 3282, 703, 3351, face="white", edge="none", z=4)
px_rect(360, 3350, 683, 3429, face="white", edge="none", z=4)
px_text(518, 3296, "Wokingham sunshine", 13.5)
px_text(518, 3327, "27-Oct", 18.5)
px_text(518, 3369, "2011", 11.5, fontweight="bold")
px_text(518, 3398, "Total 0.00 Hrs", 18.5)

# ---------------- panel 8: wind direction ----------------
px_rect(37, 3831, 968, 4364)
ax8 = px_axes(121, 3850, 951, 4316)
dir_hours = np.linspace(dir_first_hour, dir_last_hour, len(wind_dir))
sns.scatterplot(x=dir_hours, y=wind_dir, ax=ax8, marker="D", s=24, color="black", linewidth=0, legend=False)
ax8.set_xlim(-0.78, 24.9)
ax8.set_ylim(0, 360)
ax8.set_xticks(list(range(0, 25)), [str(v) for v in range(0, 25)])
ax8.set_yticks(list(range(0, 361, 30)))
ax8.set_yticks(list(range(10, 360, 10)), minor=True)
ax8.grid(axis="x", color="black", linewidth=0.8)
ax8.grid(axis="y", which="minor", color="black", linewidth=0.8)
ax8.grid(axis="y", which="major", color="black", linewidth=2.0)
hide_edge_grid(ax8, (0, 360))
ax8.set_axisbelow(True)
ax8.tick_params(axis="x", length=0, labelsize=9, pad=7)
ax8.tick_params(axis="y", which="both", length=0, labelsize=9, pad=8)
ax8.set_xlabel("")
ax8.set_ylabel("")
px_text(535, 4351, "Time (GMT)", 10)
px_text(70, 4082, "Direction, degrees true", 10, rotation=90)
px_rect(325, 3840, 620, 3888, face="white", edge="none", z=4)
px_text(471, 3851, "Wokingham,  27 October 2011", 12)
px_text(471, 3870, "5 minute mean wind direction", 10)

# ---------------- panel 9: wind speed ----------------
px_rect(37, 4377, 968, 4895)
ax9 = px_axes(95, 4422, 945, 4818)
gust_h, gust_v = zip(*gust_speed)
mean_h, mean_v = zip(*mean_speed)
x10_h, x10_v = zip(*speed_x10)
sns.lineplot(x=list(gust_h), y=list(gust_v), ax=ax9, color="#4a4a4a", linewidth=0.6, estimator=None,
             legend=False)
sns.lineplot(x=list(mean_h), y=list(mean_v), ax=ax9, color="black", linewidth=1.5, estimator=None,
             label="Speed x 1")
sns.scatterplot(x=list(x10_h), y=list(x10_v), ax=ax9, marker="D", s=16, color="#c6c6c6", edgecolor="black",
                linewidth=0.5, label="Speed / 10", zorder=3)
ax9.set_xlim(-0.73, 24.87)
ax9.set_ylim(0, 50)
hours24 = list(range(0, 24))
two_row_xticks(ax9, hours24, lambda v: f"{v:02d}:00", 10.5, 21.5)
ax9.set_yticks(list(range(0, 51, 10)))
ax9.set_yticks(list(range(5, 50, 10)), minor=True)
ax9.grid(axis="x", which="both", **DOT_GRID)
ax9.grid(axis="y", which="both", **DOT_GRID)
ax9.set_axisbelow(True)
ax9.tick_params(axis="y", which="both", direction="in", length=8, labelsize=9, pad=9)
ax9.set_xlabel("")
ax9.set_ylabel("")
px_text(522, 4872, "Time (GMT)", 10)
px_text(50, 4622, "Speed (knots)", 10, rotation=90)
px_text(962, 4820, "0", 8, fontweight="bold")
px_rect(103, 4418, 442, 4425, face="white", edge="none", z=4)
px_text(269, 4401, "Wokingham,  27 October 2011", 13.5)
px_text(583, 4390, "Wind speed, 10 min mean / max gust", 10)
px_text(583, 4409, "Speeds below 4 kt shown at x10 scale", 10)
h, l = grab_legend(ax9)
box_legend(h, l, 738, 4384, 7.8, ncol=2, handlelength=1.0, handletextpad=0.5, columnspacing=2.2,
           borderpad=0.6)

fig.savefig("out.png", dpi=100, facecolor="white")
